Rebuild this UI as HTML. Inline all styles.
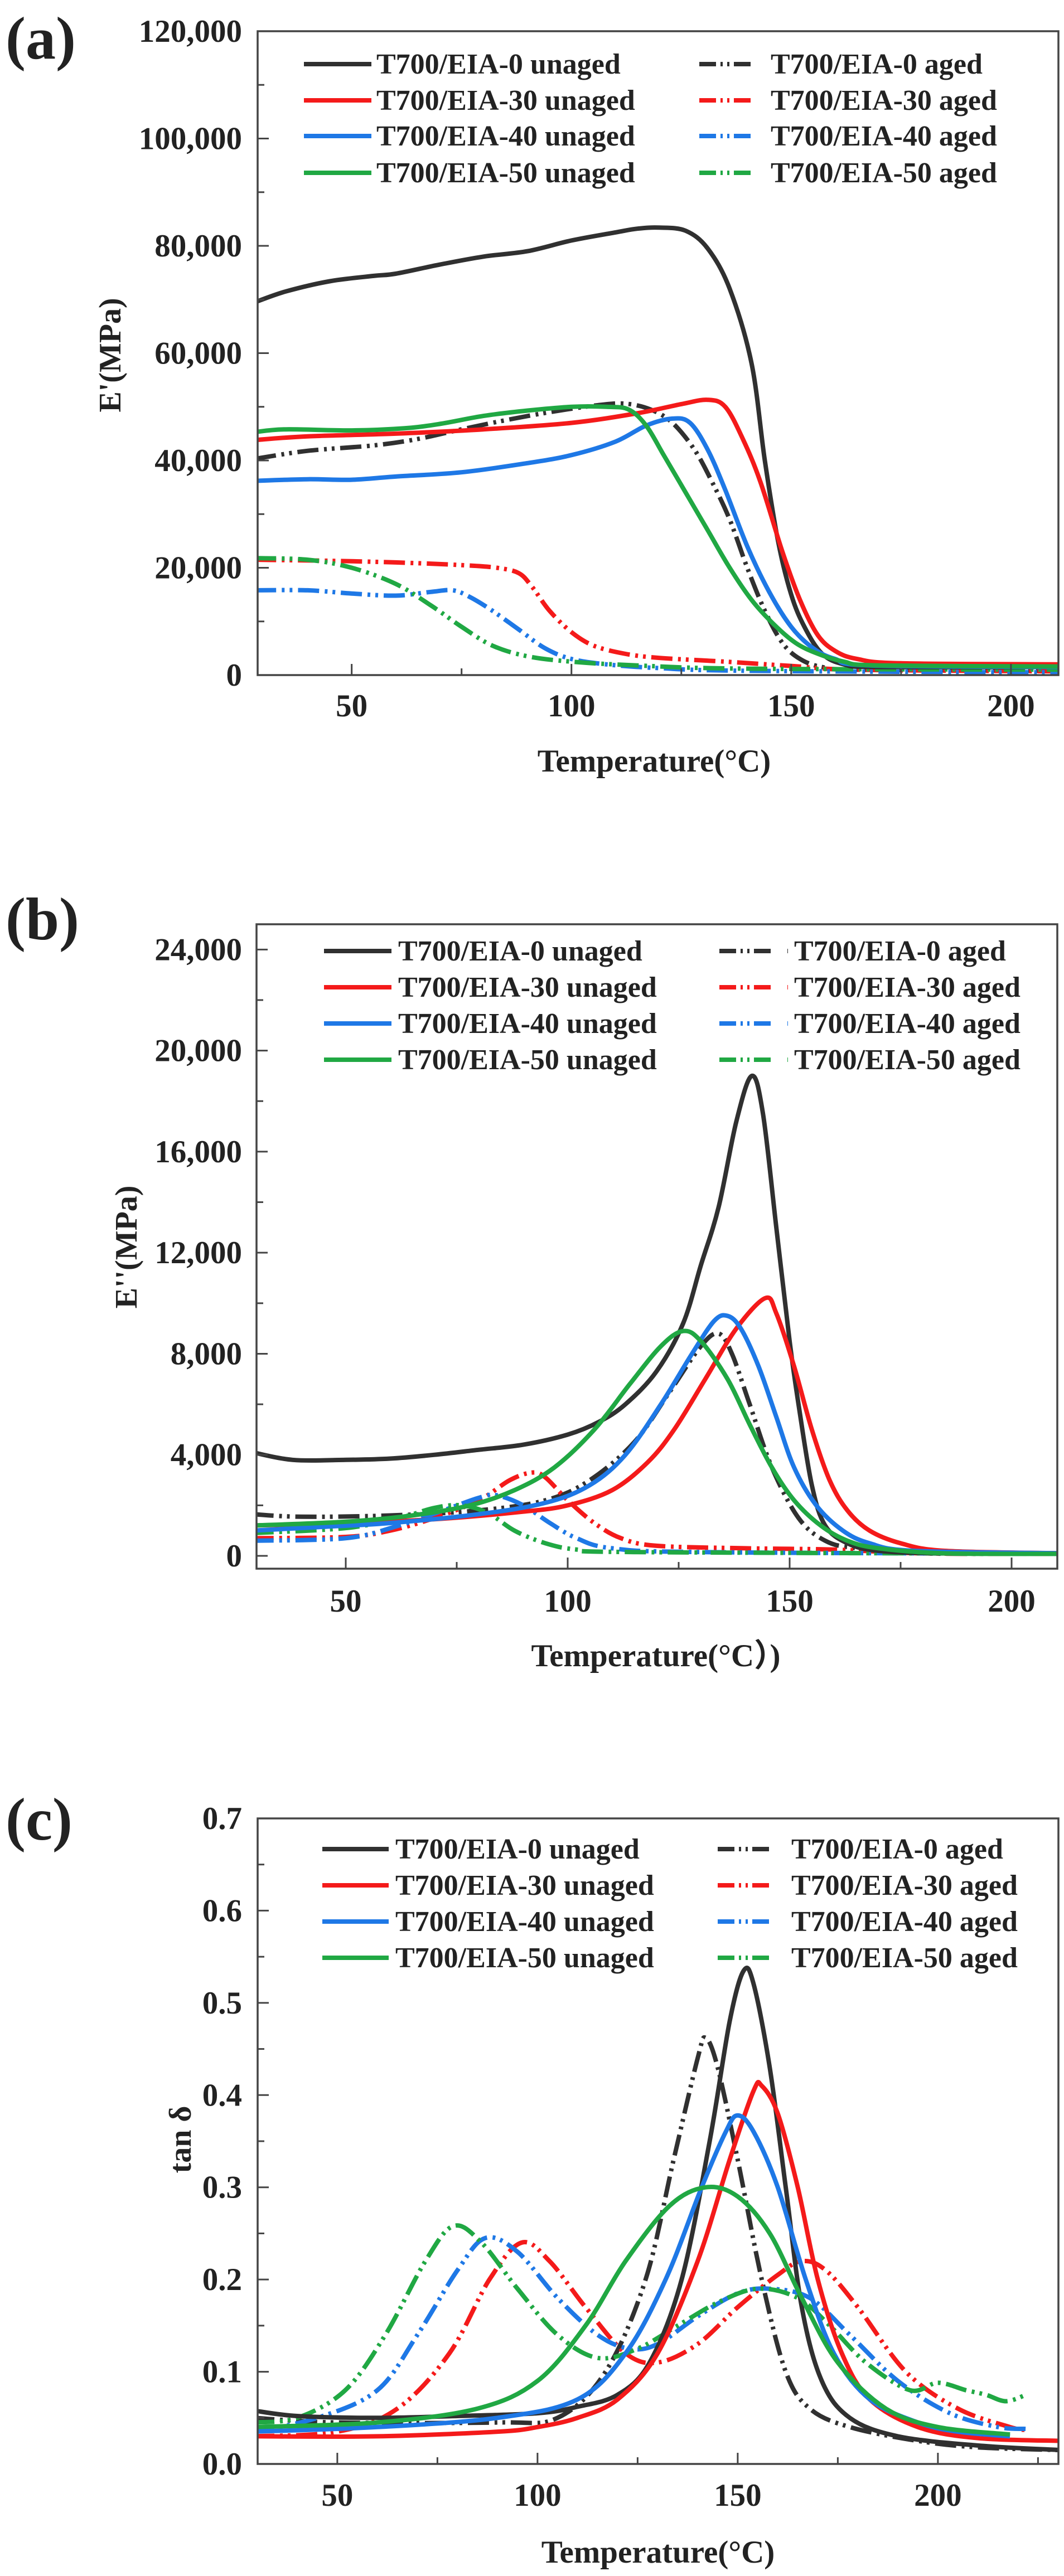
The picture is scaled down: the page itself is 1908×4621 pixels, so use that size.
<!DOCTYPE html>
<html><head><meta charset="utf-8"><style>
html,body{margin:0;padding:0;background:#fff;}
svg{display:block;}
text{font-family:"Liberation Serif","Noto Sans CJK SC","Times New Roman",serif;font-weight:bold;fill:#222;}
</style></head><body>
<svg id="s" width="1908" height="4621" viewBox="0 0 1908 4621" xmlns="http://www.w3.org/2000/svg"></svg>
<script>
const S=document.getElementById('s');const NS='http://www.w3.org/2000/svg';
function el(t,a,txt){const e=document.createElementNS(NS,t);for(const k in a)e.setAttribute(k,a[k]);if(txt!==undefined)e.textContent=txt;S.appendChild(e);return e;}
const COL={k:'#303030',r:'#f41a1a',b:'#1e78e6',g:'#20a843'};
const DASH='38 10 5 9 5 10';
function smooth(p){let d='M'+p[0][0].toFixed(1)+','+p[0][1].toFixed(1);
 for(let i=0;i<p.length-1;i++){const p0=p[Math.max(0,i-1)],p1=p[i],p2=p[i+1],p3=p[Math.min(p.length-1,i+2)];
  const c1=[p1[0]+(p2[0]-p0[0])/6,p1[1]+(p2[1]-p0[1])/6],c2=[p2[0]-(p3[0]-p1[0])/6,p2[1]-(p3[1]-p1[1])/6];
  d+='C'+c1[0].toFixed(1)+','+c1[1].toFixed(1)+' '+c2[0].toFixed(1)+','+c2[1].toFixed(1)+' '+p2[0].toFixed(1)+','+p2[1].toFixed(1);}
 return d;}
function panel(P){
 const X=v=>P.L+(v-P.x0)*(P.R-P.L)/(P.x1-P.x0), Y=v=>P.B-(v-P.y0)*(P.B-P.T)/(P.y1-P.y0);
 const cid='c'+P.id;
 const cp=document.createElementNS(NS,'clipPath');cp.setAttribute('id',cid);const r=document.createElementNS(NS,'rect');
 r.setAttribute('x',P.L);r.setAttribute('y',P.T);r.setAttribute('width',P.R-P.L);r.setAttribute('height',P.B-P.T);cp.appendChild(r);S.appendChild(cp);
 const order=['kA','rA','bA','gA','k','r','b','g'];
 for(const key of order){const d=P.data[key];if(!d)continue;
  const pts=d.map(q=>[X(q[0]),Y(q[1])]);
  const a={d:smooth(pts),fill:'none',stroke:COL[key[0]],'stroke-width':8,'stroke-linejoin':'round','clip-path':'url(#'+cid+')'};
  if(key.length>1)a['stroke-dasharray']=DASH;
  el('path',a);}
 el('rect',{x:P.L,y:P.T,width:P.R-P.L,height:P.B-P.T,fill:'none',stroke:'#444','stroke-width':3.5});
 for(let v=P.y0c;v<=P.y1+1e-9;v+=P.ym){const y=Y(v);const maj=Math.abs(Math.round(v/P.yM)*P.yM-v)<1e-9;
  el('line',{x1:P.L,x2:P.L+(maj?20:12),y1:y,y2:y,stroke:'#444','stroke-width':3});
  if(maj)el('text',{x:434,y:y+19,'text-anchor':'end','font-size':57},P.yf(v));}
 for(let v=50;v<=P.x1;v+=25){const x=X(v);const maj=v%50==0;
  el('line',{x1:x,x2:x,y1:P.B,y2:P.B-(maj?20:12),stroke:'#444','stroke-width':3});
  if(maj)el('text',{x:x,y:P.tly,'text-anchor':'middle','font-size':57},String(v));}
 el('text',{x:P.xtx,y:P.xty,'text-anchor':'middle','font-size':57},P.xt);
 el('text',{x:0,y:0,'text-anchor':'middle','font-size':56,transform:'translate('+P.ytx+','+P.yty+') rotate(-90)'},P.yt);
 el('text',{x:10,y:P.labY,'font-size':108},P.lab);
 const names=[['k','T700/EIA-0'],['r','T700/EIA-30'],['b','T700/EIA-40'],['g','T700/EIA-50']];
 names.forEach((n,i)=>{const y=P.legY[i];
  el('line',{x1:P.lg[0],x2:P.lg[1],y1:y,y2:y,stroke:COL[n[0]],'stroke-width':8});
  el('text',{x:P.lg[2],y:y+17,'font-size':52},n[1]+' unaged');
  el('line',{x1:P.lg[3],x2:P.lg[4],y1:y,y2:y,stroke:COL[n[0]],'stroke-width':8,'stroke-dasharray':'30 8 4 8 4 8 30'});
  el('text',{x:P.lg[5],y:y+17,'font-size':52},n[1]+' aged');});
}
const fmt=v=>Math.round(v).toLocaleString('en-US');
panel({id:'a',L:462,R:1898,T:56,B:1211,x0:28.6,x1:210.8,y0:0,y1:120,y0c:0,ym:10,yM:20,yf:v=>fmt(v*1000),
 tly:1285,xt:'Temperature(°C)',xtx:1173,xty:1384,yt:"E'(MPa)",ytx:216,yty:637,lab:'(a)',labY:105,
 legY:[115,180,244,310],lg:[545,666,675,1254,1376,1382],
 data:{
 k:[[28,69.5],[35,71.5],[45,73.4],[55,74.4],[60,74.8],[70,76.5],[80,78],[90,79],[100,81],[110,82.5],[115,83.2],[120,83.4],[126,82.8],[131,79.5],[136,72],[141,58],[144,40],[147,25],[150,15],[153,9],[157,4],[162,2],[170,1.5],[212,1.5]],
 r:[[28,43.8],[40,44.5],[60,45],[80,45.8],[100,47],[115,48.8],[125,50.5],[131,51.3],[135,50],[139,44],[143,36],[148,23],[152,14],[156,7.5],[160,4.5],[165,3],[175,2.2],[212,2]],
 b:[[28,36.2],[40,36.5],[50,36.4],[60,37],[75,37.8],[90,39.5],[100,41],[110,43.5],[117,46.5],[123,47.8],[127,47],[131,42],[135,34.5],[140,24],[145,15.5],[150,9],[155,5],[160,3],[168,1.8],[212,1.5]],
 g:[[28,45.3],[35,45.8],[50,45.6],[62,46],[70,46.8],[80,48.3],[90,49.3],[100,50],[108,50],[113,49.5],[117,46.5],[121,41],[126,34],[131,27],[136,20],[141,14],[146,9.5],[151,6],[156,4],[162,2.5],[170,1.8],[212,1.6]],
 kA:[[28,40.3],[40,41.8],[55,42.8],[65,44],[75,45.8],[85,47.5],[95,49],[105,50.2],[112,50.6],[118,49.5],[123,47],[128,42],[132,36],[136,29],[140,20],[144,12],[148,6],[152,3],[157,1.5],[165,1],[212,0.8]],
 rA:[[28,21.5],[45,21.3],[60,21],[75,20.5],[83,20],[88,19],[91,16.5],[95,12],[100,8],[105,5.5],[112,4],[120,3.2],[135,2.5],[150,1.7],[165,1],[212,0.7]],
 bA:[[28,15.8],[40,15.8],[50,15.2],[60,14.8],[68,15.5],[73,15.8],[77,14.5],[82,12],[88,8.5],[94,5],[100,3],[108,2],[120,1.3],[140,0.8],[212,0.5]],
 gA:[[28,21.8],[40,21.5],[50,20],[60,17],[68,13],[75,9],[82,5.5],[90,3.5],[100,2.5],[115,1.8],[140,1.2],[212,1]]}});
panel({id:'b',L:460,R:1896,T:1658,B:2814,x0:29.9,x1:210.3,y0:-0.507,y1:25.0,y0c:0,ym:2,yM:4,yf:v=>fmt(v*1000),
 tly:2891,xt:'Temperature(°C）)',xtx:1176,xty:2989,yt:"E''(MPa)",ytx:245,yty:2237,lab:'(b)',labY:1685,
 legY:[1706,1771,1836,1901],lg:[581,702,714,1290,1413,1424],
 data:{
 k:[[29,4.1],[38,3.8],[50,3.8],[60,3.85],[70,4.0],[80,4.2],[90,4.4],[100,4.8],[107,5.3],[113,6.0],[120,7.3],[126,9.2],[130,11.5],[134,13.8],[138,17.2],[141.5,19],[144,17.5],[147,13],[150,8.5],[152,6],[155,2.8],[158,1.2],[163,0.5],[170,0.2],[185,0.1],[212,0.1]],
 r:[[29,1.2],[50,1.3],[70,1.45],[90,1.75],[100,2.0],[110,2.6],[118,3.7],[124,5.0],[131,7],[138,9],[144.5,10.2],[147,9.6],[151,7.5],[155,5],[159,3],[163,1.8],[168,1],[175,0.5],[185,0.2],[212,0.1]],
 b:[[29,1.0],[45,1.15],[60,1.3],[80,1.65],[95,2.1],[105,2.8],[113,4.0],[121,6.0],[128,8.0],[133,9.3],[136,9.5],[139,9],[143,7.5],[147,5.5],[151,3.5],[156,2],[162,1],[168,0.5],[178,0.2],[212,0.1]],
 g:[[29,1.2],[50,1.35],[65,1.6],[78,2.0],[88,2.6],[97,3.5],[106,5],[114,6.8],[121,8.3],[126,8.9],[130,8.5],[136,7],[141,5.2],[146,3.5],[151,2.2],[157,1.2],[163,0.6],[170,0.3],[185,0.1],[212,0.08]],
 kA:[[29,1.65],[40,1.55],[60,1.6],[80,1.8],[95,2.2],[105,3],[115,4.5],[123,6.5],[130,8.3],[134,8.8],[137,8],[141,6],[146,3.5],[152,1.5],[158,0.6],[165,0.3],[180,0.1],[212,0.08]],
 rA:[[29,0.7],[50,0.75],[60,1.0],[70,1.5],[80,2.2],[87,3.0],[92,3.3],[95,3.1],[100,2.2],[106,1.3],[112,0.7],[120,0.4],[140,0.3],[160,0.25],[180,0.1],[212,0.08]],
 bA:[[29,0.6],[50,0.7],[62,1.2],[72,1.8],[80,2.3],[84,2.4],[90,2.0],[96,1.3],[102,0.7],[110,0.3],[130,0.15],[212,0.08]],
 gA:[[29,0.9],[50,1.1],[62,1.5],[70,1.9],[76,2.0],[82,1.7],[88,1.0],[95,0.5],[102,0.25],[115,0.15],[212,0.08]]}});
panel({id:'c',L:462,R:1898,T:3262,B:4420,x0:30.1,x1:230.1,y0:0,y1:0.7,y0c:0,ym:0.05,yM:0.1,yf:v=>v.toFixed(1),
 tly:4495,xt:'Temperature(°C)',xtx:1180,xty:4597,yt:'tan δ',ytx:342,yty:3838,lab:'(c)',labY:3300,
 legY:[3317,3382,3447,3512],lg:[578,697,709,1287,1407,1419],
 data:{
 k:[[29,0.058],[40,0.052],[60,0.05],[80,0.052],[100,0.055],[110,0.062],[120,0.075],[128,0.11],[136,0.2],[143,0.35],[148,0.48],[151.5,0.535],[154,0.52],[158,0.43],[162,0.3],[166,0.17],[171,0.09],[178,0.05],[190,0.03],[210,0.02],[231,0.015]],
 r:[[29,0.03],[60,0.03],[90,0.035],[100,0.04],[110,0.05],[120,0.07],[130,0.12],[140,0.22],[148,0.33],[154,0.405],[156,0.41],[160,0.38],[165,0.3],[170,0.2],[176,0.12],[183,0.07],[195,0.04],[210,0.028],[231,0.025]],
 b:[[29,0.035],[60,0.04],[90,0.05],[110,0.07],[122,0.12],[132,0.2],[141,0.3],[147,0.36],[150,0.378],[154,0.36],[160,0.3],[167,0.2],[174,0.12],[183,0.07],[195,0.045],[205,0.035],[218,0.03]],
 g:[[29,0.04],[60,0.045],[85,0.06],[100,0.09],[112,0.15],[122,0.22],[133,0.28],[142,0.3],[150,0.29],[158,0.25],[166,0.18],[175,0.11],[187,0.06],[200,0.04],[218,0.032]],
 kA:[[29,0.05],[50,0.045],[90,0.045],[105,0.05],[117,0.1],[127,0.2],[134,0.33],[140,0.44],[142,0.462],[145,0.43],[150,0.33],[156,0.2],[162,0.1],[168,0.06],[178,0.04],[195,0.025],[210,0.018],[231,0.015]],
 rA:[[29,0.03],[50,0.035],[65,0.06],[78,0.12],[88,0.2],[96,0.24],[103,0.22],[112,0.17],[122,0.12],[130,0.11],[140,0.13],[150,0.17],[160,0.205],[166,0.22],[172,0.21],[180,0.17],[192,0.1],[205,0.06],[218,0.04],[222,0.037]],
 bA:[[29,0.035],[45,0.05],[60,0.08],[70,0.14],[80,0.21],[87,0.245],[95,0.23],[105,0.18],[115,0.14],[123,0.125],[130,0.13],[140,0.16],[150,0.185],[158,0.19],[168,0.18],[178,0.14],[190,0.09],[203,0.055],[215,0.04],[222,0.038]],
 gA:[[29,0.045],[40,0.05],[52,0.08],[62,0.14],[72,0.22],[79,0.258],[86,0.24],[95,0.19],[105,0.14],[115,0.115],[125,0.125],[135,0.15],[145,0.175],[155,0.19],[165,0.18],[173,0.15],[182,0.11],[193,0.08],[200,0.088],[207,0.08],[212,0.075],[217,0.068],[222,0.075]]}});
</script>
</body></html>
